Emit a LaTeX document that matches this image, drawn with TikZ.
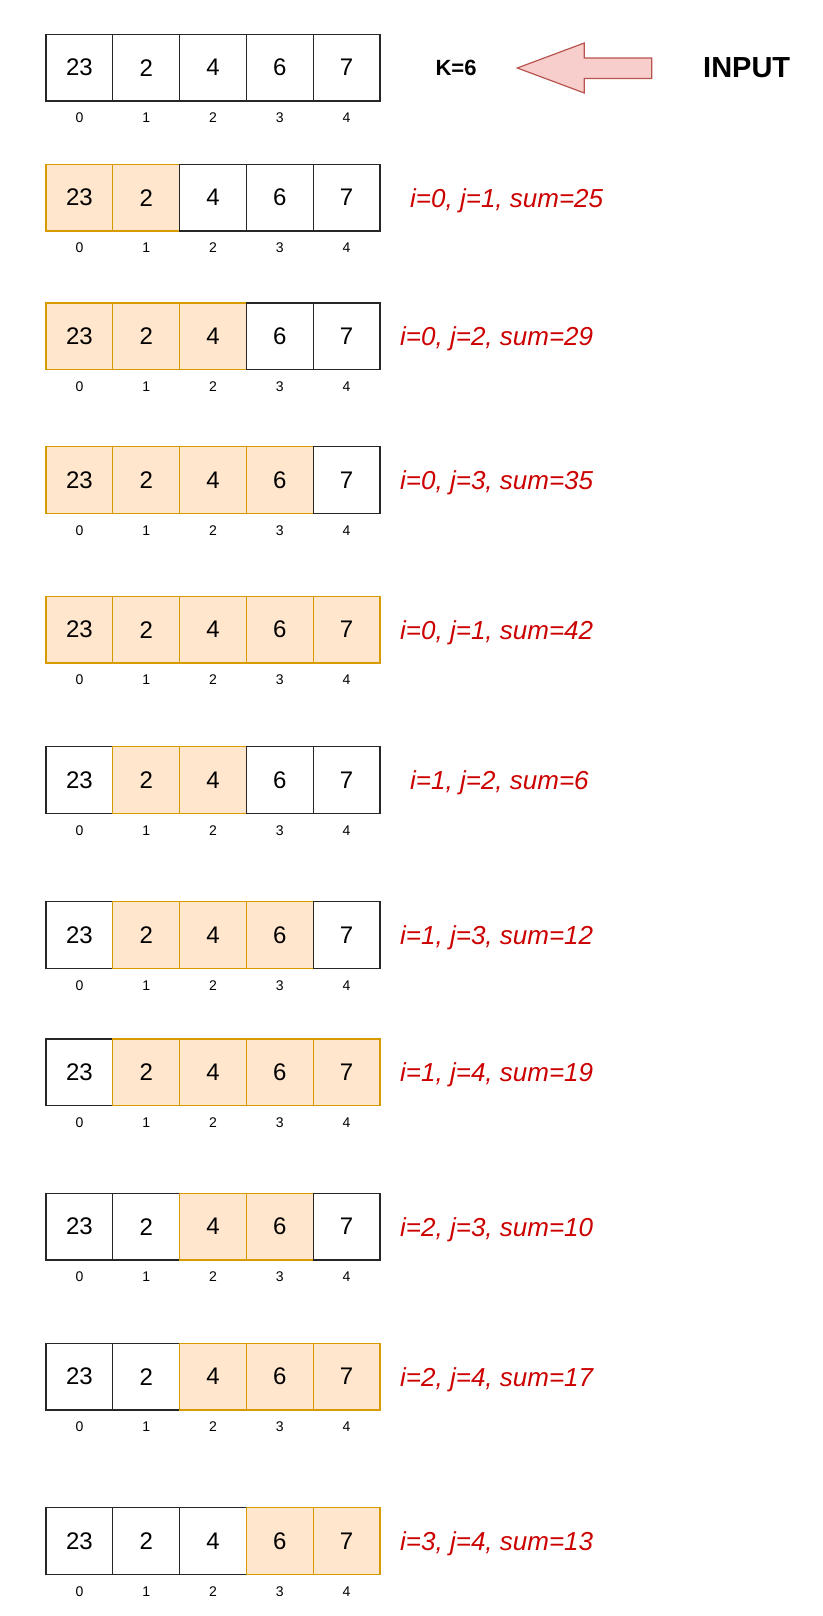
\documentclass[tikz,border=0pt]{standalone}
\usepackage{fontspec}
\setmainfont{Liberation Sans}
\usepackage{tikz}
\usetikzlibrary{positioning}
\definecolor{winfill}{HTML}{FFE6CC}
\definecolor{windraw}{HTML}{D79B00}
\definecolor{sumred}{HTML}{CC0000}
\definecolor{arrfill}{HTML}{F8CECC}
\definecolor{arrdraw}{HTML}{B85450}
\tikzset{
  cell0/.style={draw=black!85, fill=white, line width=1.3pt, minimum width=66.8pt,
    minimum height=66.7pt, inner sep=0pt, outer sep=0pt, anchor=north west,
    font=\fontsize{24}{28}\selectfont},
  cell1/.style={cell0, draw=windraw, fill=winfill},
  idx/.style={inner sep=0pt, font=\fontsize{14}{16}\selectfont},
  sumtxt/.style={inner sep=0pt, anchor=west, text=sumred, text height=19pt, text depth=0pt,
    font=\fontsize{26}{30}\selectfont\itshape},
}
% one row of the array: name, top, first and last cell of the window
\newcommand{\cellrow}[4]{%
  \foreach \v [count=\k from 0] in {23,2,4,6,7} {
    \pgfmathtruncatemacro{\hl}{and(\k>=#3,\k<=#4)}
    \node[cell\hl] (#1c\k) at (46+66.8*\k,#2) {\v};
    \node[idx] (#1i\k) at ([yshift=-17pt]#1c\k.south) {\k};
  }
}

\begin{document}
\begin{tikzpicture}[x=1pt,y=-1pt]
    \useasboundingbox (0,0) rectangle (822,1616);
    % input
    \cellrow{r1}{34.3}{9}{9}
    \node[font=\fontsize{22}{26}\selectfont\bfseries] (k) at (456,68) {K=6};
    \node[font=\fontsize{29}{34}\selectfont\bfseries] (input) at (746.7,68) {INPUT};
    \draw[draw=arrdraw, fill=arrfill, line width=1.2pt, line join=miter]
      (651.7,58) -- (584.3,58) -- (584.3,43) -- (517.3,68) -- (584.3,93)
      -- (584.3,78.5) -- (651.7,78.5) -- cycle;
    % windows
    \cellrow{r2}{164.3}{0}{1}
    \cellrow{r3}{303}{0}{2}
    \cellrow{r4}{446.7}{0}{3}
    \cellrow{r5}{596.3}{0}{4}
    \cellrow{r6}{746.7}{1}{2}
    \cellrow{r7}{901.7}{1}{3}
    \cellrow{r8}{1039}{1}{4}
    \cellrow{r9}{1193.3}{2}{3}
    \cellrow{r10}{1343.3}{2}{4}
    \cellrow{r11}{1507.7}{3}{4}
    \node[sumtxt, right=30pt of r2c4] (s2) {i=0, j=1, sum=25};
    \node[sumtxt, right=20pt of r3c4] (s3) {i=0, j=2, sum=29};
    \node[sumtxt, right=20pt of r4c4] (s4) {i=0, j=3, sum=35};
    \node[sumtxt, right=20pt of r5c4] (s5) {i=0, j=1, sum=42};
    \node[sumtxt, right=30pt of r6c4] (s6) {i=1, j=2, sum=6};
    \node[sumtxt, right=20pt of r7c4] (s7) {i=1, j=3, sum=12};
    \node[sumtxt, right=20pt of r8c4] (s8) {i=1, j=4, sum=19};
    \node[sumtxt, right=20pt of r9c4] (s9) {i=2, j=3, sum=10};
    \node[sumtxt, right=20pt of r10c4] (s10) {i=2, j=4, sum=17};
    \node[sumtxt, right=20pt of r11c4] (s11) {i=3, j=4, sum=13};
\end{tikzpicture}
\end{document}
